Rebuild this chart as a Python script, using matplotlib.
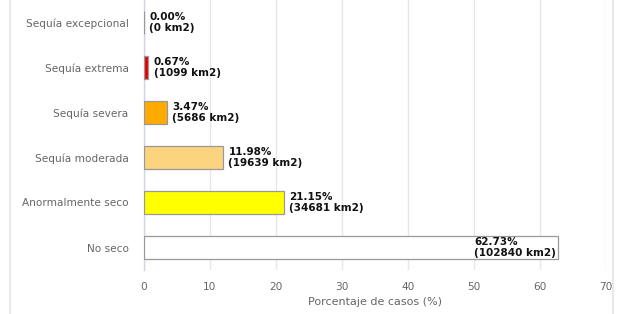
import matplotlib
matplotlib.use("Agg")
from matplotlib import pyplot as plt
from matplotlib.lines import Line2D
import numpy as np

# data
categories = ['Sequía excepcional', 'Sequía extrema', 'Sequía severa',
              'Sequía moderada', 'Anormalmente seco', 'No seco']
percent = [0.00, 0.67, 3.47, 11.98, 21.15, 62.73]
area_km2 = [0, 1099, 5686, 19639, 34681, 102840]
colors = ['#730000', '#e60000', '#ffaa00', '#fcd37f', '#ffff00', '#ffffff']
xticks = [0, 10, 20, 30, 40, 50, 60, 70]

plt.rcParams['font.family'] = ['DejaVu Sans']

fig = plt.figure(figsize=(6.17, 3.14), dpi=100)
ax = fig.add_axes([144 / 617, 1 - 270 / 314, (606 - 144) / 617, 270 / 314])

y = np.arange(len(categories))
ax.barh(y, percent, height=0.5, color=colors, edgecolor='#999999', linewidth=0.9, zorder=3)

ax.set_xlim(0, 70)
ax.set_ylim(len(categories) - 0.5, -0.5)
ax.set_xticks(xticks)
ax.set_yticks(y)
ax.set_yticklabels(categories)
ax.tick_params(axis='both', length=0, colors='#666666', labelsize=7.6)
ax.tick_params(axis='y', pad=11)
ax.tick_params(axis='x', pad=9)
ax.grid(axis='x', color='#e6e6e6', linewidth=1, zorder=0)
for side in ['top', 'right', 'bottom']:
    ax.spines[side].set_visible(False)
ax.spines['left'].set_color('#ccd6eb')
ax.spines['left'].set_linewidth(1)
ax.set_xlabel('Porcentaje de casos (%)', color='#666666', fontsize=8, labelpad=3)

for yi, p, a in zip(y, percent, area_km2):
    label = f'{p:.2f}%\n({a} km2)'
    if p > 50:
        ax.text(p - 0.3, yi, label, ha='right', va='center', multialignment='left',
                fontsize=7.5, fontweight='bold', color='#111111', linespacing=1.15, zorder=4)
    else:
        ax.text(p + 0.8, yi, label, ha='left', va='center', fontsize=7.5,
                fontweight='bold', color='#111111', linespacing=1.15, zorder=4)

# light frame lines on the sides
fig.add_artist(Line2D([10 / 617, 10 / 617], [0, 1], color='#e8e8e8', linewidth=1.5))
fig.add_artist(Line2D([613 / 617, 613 / 617], [0, 1], color='#e8e8e8', linewidth=1.5))

fig.savefig('out.png', dpi=100)
